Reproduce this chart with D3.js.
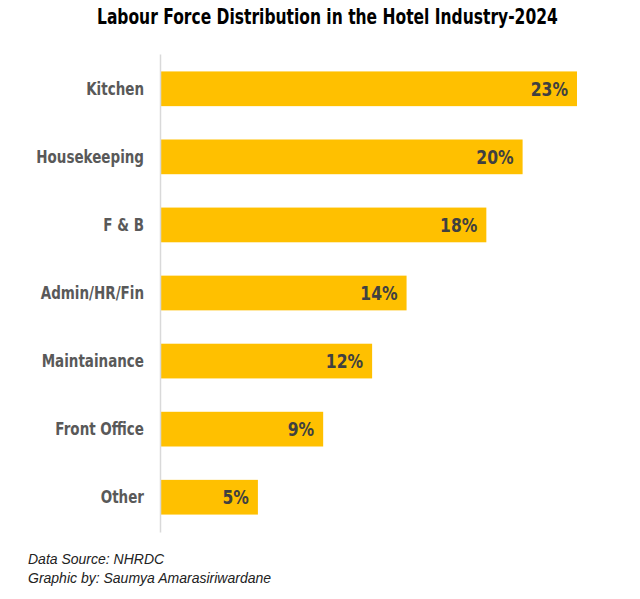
<!DOCTYPE html>
<html>
<head>
    <meta charset="utf-8">
    <title>Labour Force Distribution</title>
    <script src="https://cdn.jsdelivr.net/npm/d3@7/dist/d3.min.js"></script>
    <style>
        body { margin: 0; background: #fff; }
        .cond { font-family: 'DejaVu Sans', sans-serif; }
    </style>
</head>
<body>
    <svg width="640" height="599" id="mainsvg"></svg>
    <script>
        const categories = ['Kitchen', 'Housekeeping', 'F & B', 'Admin/HR/Fin', 'Maintainance', 'Front Office', 'Other'];
        const values = [23, 20, 18, 13.6, 11.7, 9, 5.4];
        const labels = ['23%', '20%', '18%', '14%', '12%', '9%', '5%'];

        const svg = d3.select('svg');
        const margin = { top: 54, left: 160, bottom: 67 };
        const pxPerPct = 18.13;
        const squeeze = 0.75;
        const valSqueeze = 0.82;

        const xScale = d3.scaleLinear()
            .domain([0, 25])
            .range([margin.left, margin.left + 25 * pxPerPct]);

        const yScale = d3.scaleBand()
            .domain(categories)
            .range([margin.top, 599 - margin.bottom])
            .paddingInner(0.49)
            .paddingOuter(0.256);

        // title, squeezed to look like a condensed face
        const title = svg.append('text')
            .attr('class', 'cond')
            .attr('x', 0)
            .attr('y', 0)
            .attr('font-size', '20.5px')
            .attr('font-weight', 'bold')
            .attr('fill', '#000')
            .text('Labour Force Distribution in the Hotel Industry-2024');
        const tw = title.node().getComputedTextLength();
        title.attr('transform', `translate(97, 23.5) scale(${461 / tw}, 1)`);

        // bars
        svg.append('g').selectAll('rect').data(values)
            .join('rect')
            .attr('x', xScale(0))
            .attr('y', (d, i) => yScale(categories[i]))
            .attr('width', d => xScale(d) - xScale(0))
            .attr('height', yScale.bandwidth())
            .attr('fill', '#FFC000');

        // value labels
        svg.append('g').selectAll('text').data(values)
            .join('text')
            .attr('class', 'cond')
            .attr('transform', (d, i) => `translate(${xScale(d) - 9}, ${yScale(categories[i]) + yScale.bandwidth() / 2}) scale(${valSqueeze}, 1)`)
            .attr('dy', '0.36em')
            .attr('text-anchor', 'end')
            .attr('font-size', '19px')
            .attr('font-weight', 'bold')
            .attr('fill', '#404040')
            .text((d, i) => labels[i]);

        // y axis
        const yAxis = d3.axisLeft(yScale).tickSize(0).tickPadding(16);
        const yAxis_group = svg.append('g')
            .attr('transform', `translate(${margin.left}, 0)`)
            .call(yAxis);
        yAxis_group.select('.domain')
            .attr('stroke', '#d9d9d9')
            .attr('stroke-width', 1.5);
        yAxis_group.selectAll('.tick text')
            .attr('class', 'cond')
            .attr('x', -16 / squeeze)
            .attr('transform', `scale(${squeeze}, 1)`)
            .attr('font-size', '18px')
            .attr('font-weight', 'bold')
            .attr('fill', '#595959');

        // footer
        const foot = svg.append('g')
            .attr('font-family', 'Liberation Sans, Arial, sans-serif')
            .attr('font-style', 'italic')
            .attr('font-size', '14px')
            .attr('fill', '#222');
        foot.append('text').attr('x', 28).attr('y', 564).text('Data Source: NHRDC');
        foot.append('text').attr('x', 28).attr('y', 583).text('Graphic by: Saumya Amarasiriwardane');
    </script>
</body>
</html>
